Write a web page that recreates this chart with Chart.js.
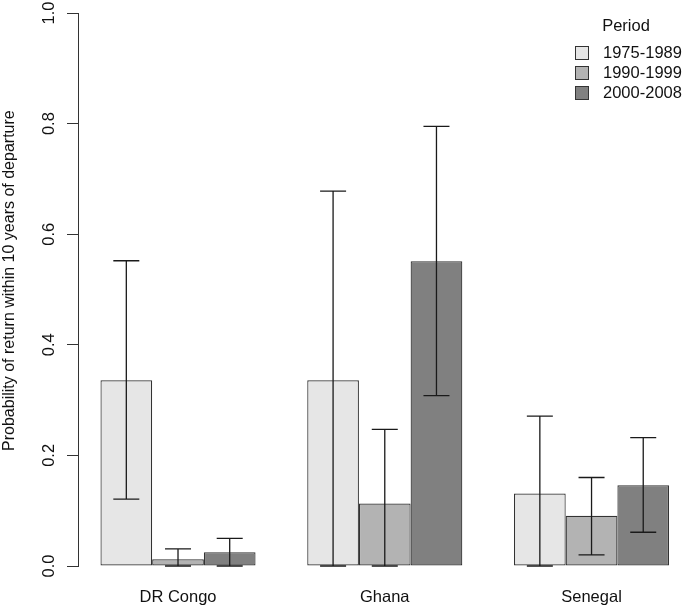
<!DOCTYPE html>
<html>
<head>
<meta charset="utf-8">
<script src="https://cdn.jsdelivr.net/npm/chart.js@4/dist/chart.umd.min.js"></script>
<style>
  html, body { margin: 0; padding: 0; background: #fff; }
  #wrap { width: 685px; height: 607px; }
</style>
</head>
<body>
<div id="wrap"><canvas id="chart" width="685" height="607"></canvas></div>
<script>
// countries along the x axis
const countries = ['DR Congo', 'Ghana', 'Senegal'];
const periods = ['1975-1989', '1990-1999', '2000-2008'];

// probability of return, one array per period
const p1975 = [0.336, 0.336, 0.131];
const p1990 = [0.012, 0.113, 0.091];
const p2000 = [0.025, 0.551, 0.146];

// confidence intervals
const lo1975 = [0.121, 0.0, 0.0];
const hi1975 = [0.552, 0.678, 0.271];
const lo1990 = [0.0, 0.0, 0.020];
const hi1990 = [0.031, 0.247, 0.160];
const lo2000 = [0.0, 0.308, 0.061];
const hi2000 = [0.050, 0.795, 0.232];

const yTicks = [0.0, 0.2, 0.4, 0.6, 0.8, 1.0];

const fills = ['#e6e6e6', '#b3b3b3', '#808080'];
const values = [p1975, p1990, p2000];
const lows = [lo1975, lo1990, lo2000];
const highs = [hi1975, hi1990, hi2000];

const FONT = 'Liberation Sans, Arial, sans-serif';

// draw the confidence interval whiskers on top of the bars
const errorBars = {
  id: 'errorBars',
  afterDatasetsDraw(chart) {
    const c = chart.ctx;
    const y = chart.scales.y;
    c.save();
    c.strokeStyle = '#1a1a1a';
    c.lineWidth = 1.3;
    chart.data.datasets.forEach((ds, i) => {
      const meta = chart.getDatasetMeta(i);
      meta.data.forEach((bar, j) => {
        const top = y.getPixelForValue(highs[i][j]);
        const bot = y.getPixelForValue(lows[i][j]);
        c.beginPath();
        c.moveTo(bar.x, top); c.lineTo(bar.x, bot);
        c.moveTo(bar.x - 13, top); c.lineTo(bar.x + 13, top);
        c.moveTo(bar.x - 13, bot); c.lineTo(bar.x + 13, bot);
        c.stroke();
      });
    });
    c.restore();
  }
};

// R style legend in the top right corner
const periodLegend = {
  id: 'periodLegend',
  afterDraw(chart) {
    const c = chart.ctx;
    c.save();
    c.font = '16.5px ' + FONT;
    c.fillStyle = '#111';
    c.textBaseline = 'middle';
    c.textAlign = 'center';
    c.fillText('Period', 626, 26);
    c.textAlign = 'left';
    chart.data.datasets.forEach((ds, i) => {
      const cy = 53 + i * 20;
      c.fillStyle = ds.backgroundColor;
      c.fillRect(575.5, cy - 6.5, 13, 13);
      c.strokeStyle = '#333';
      c.lineWidth = 1;
      c.strokeRect(575.5, cy - 6.5, 13, 13);
      c.fillStyle = '#111';
      c.fillText(ds.label, 603, cy);
    });
    c.restore();
  }
};

const datasets = periods.map((p, i) => ({
  label: p,
  data: countries.map((name, j) => ({ x: j + 1, y: values[i][j] })),
  backgroundColor: fills[i],
  borderColor: '#333',
  borderWidth: 1.2,
  borderSkipped: false
}));

new Chart(document.getElementById('chart'), {
  type: 'bar',
  data: { datasets },
  plugins: [errorBars, periodLegend],
  options: {
    responsive: false,
    animation: false,
    categoryPercentage: 0.75,
    barPercentage: 1,
    layout: { padding: { top: 13, right: 0, bottom: 0, left: 0 } },
    plugins: { legend: { display: false }, tooltip: { enabled: false } },
    scales: {
      x: {
        type: 'linear',
        min: 0.5163,
        max: 3.452,
        offset: false,
        grid: { display: false },
        border: { display: false },
        afterBuildTicks: s => { s.ticks = countries.map((n, i) => ({ value: i + 1 })); },
        afterFit: s => { s.height = 41; s.paddingLeft = 0; s.paddingRight = 0; },
        ticks: {
          padding: 14,
          color: '#111',
          font: { family: FONT, size: 16.5 },
          callback: v => countries[v - 1]
        }
      },
      y: {
        min: 0,
        max: 1,
        afterBuildTicks: s => { s.ticks = yTicks.map(v => ({ value: v })); },
        afterFit: s => { s.width = 78; s.paddingTop = 0; s.paddingBottom = 0; },
        grid: { drawOnChartArea: false, drawTicks: true, tickLength: 11, color: '#333' },
        border: { display: true, color: '#333', width: 1 },
        ticks: {
          minRotation: 90,
          maxRotation: 90,
          crossAlign: 'center',
          padding: 6,
          color: '#111',
          font: { family: FONT, size: 16.5 },
          callback: v => v.toFixed(1)
        },
        title: {
          display: true,
          text: '    Probability of return within 10 years of departure',
          color: '#111',
          padding: { top: 0, bottom: 0 },
          font: { family: FONT, size: 16 }
        }
      }
    }
  }
});
</script>
</body>
</html>
